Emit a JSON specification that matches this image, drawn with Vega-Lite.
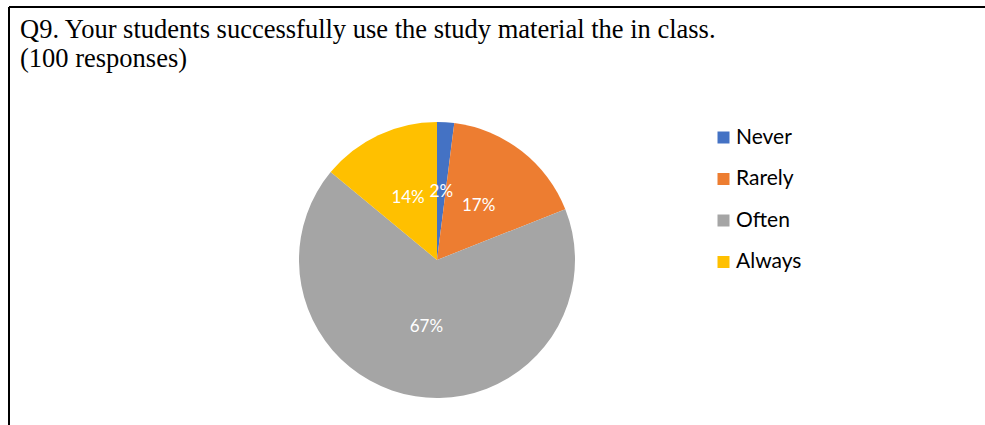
{
  "$schema": "https://vega.github.io/schema/vega-lite/v6.json",
  "width": 976,
  "height": 418,
  "autosize": "none",
  "padding": {"left": 9, "top": 7, "right": 0, "bottom": 0},
  "background": "white",
  "config": {"view": {"stroke": null}},
  "title": {
    "text": ["Q9. Your students successfully use the study material the in class.", "(100 responses)"],
    "anchor": "start",
    "frame": "group",
    "font": "Liberation Serif",
    "fontSize": 26.5,
    "fontWeight": "normal",
    "color": "black",
    "offset": -30,
    "baseline": "top",
    "dy": 36,
    "dx": 11,
    "lineHeight": 28.5
  },
  "datasets": {
    "responses": [
      {"idx": 1, "answer": "Never", "count": 2, "label": "2%"},
      {"idx": 2, "answer": "Rarely", "count": 17, "label": "17%"},
      {"idx": 3, "answer": "Often", "count": 67, "label": "67%"},
      {"idx": 4, "answer": "Always", "count": 14, "label": "14%"}
    ]
  },
  "layer": [
    {
      "data": {"values": [{}]},
      "mark": {"type": "rule", "color": "black", "strokeWidth": 2},
      "encoding": {"x": {"value": 0}, "x2": {"value": "width"}, "y": {"value": 0}}
    },
    {
      "data": {"values": [{}]},
      "mark": {"type": "rule", "color": "black", "strokeWidth": 2},
      "encoding": {"x": {"value": 0}, "y": {"value": 0}, "y2": {"value": "height"}}
    },
    {
      "data": {"name": "responses"},
      "mark": {"type": "arc", "outerRadius": 138, "x": 428, "y": 253},
      "encoding": {
        "theta": {"field": "count", "type": "quantitative", "stack": true},
        "order": {"field": "idx", "type": "quantitative"},
        "color": {
          "field": "answer",
          "type": "nominal",
          "sort": ["Never", "Rarely", "Often", "Always"],
          "scale": {"domain": ["Never", "Rarely", "Often", "Always"], "range": ["#4472C4", "#ED7D31", "#A5A5A5", "#FFC000"]},
          "legend": {
            "orient": "none",
            "legendX": 704,
            "legendY": 120,
            "title": null,
            "symbolType": "square",
            "symbolSize": 144,
            "symbolStrokeWidth": 0,
            "labelFont": "Lato",
            "labelFontSize": 21,
            "labelColor": "black",
            "labelOffset": 2,
            "rowPadding": 19.5,
            "padding": 0
          }
        }
      }
    },
    {
      "data": {"name": "responses"},
      "mark": {"type": "text", "radius": 68, "x": 428, "y": 253, "color": "white", "font": "Lato", "fontSize": 17},
      "encoding": {
        "theta": {"field": "count", "type": "quantitative", "stack": true},
        "order": {"field": "idx", "type": "quantitative"},
        "text": {"field": "label", "type": "nominal"}
      }
    }
  ]
}
